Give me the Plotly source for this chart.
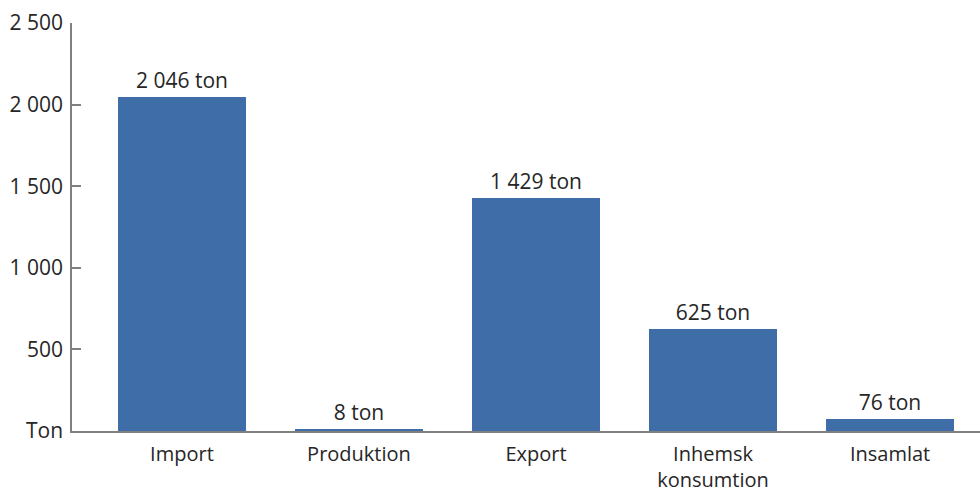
import plotly.graph_objects as go

# Flows of the substance, in tonnes
categories = ["Import", "Produktion", "Export", "Inhemsk<br>konsumtion", "Insamlat"]
values = [2046, 8, 1429, 625, 76]
value_labels = ["2 046 ton", "8 ton", "1 429 ton", "625 ton", "76 ton"]
y_ticks = [0, 500, 1000, 1500, 2000, 2500]
y_tick_labels = ["Ton", "500", "1 000", "1 500", "2 000", "2 500"]

positions = list(range(len(categories)))
font_family = "Open Sans, Noto Sans, sans-serif"
text_color = "#262626"
font_size = 21

fig = go.Figure(
    go.Bar(
        x=positions,
        y=values,
        width=0.723,
        marker=dict(color="#3F6DA8", line=dict(width=0)),
        text=value_labels,
        textposition="outside",
        textfont=dict(family=font_family, size=font_size, color=text_color),
        cliponaxis=False,
    )
)

fig.update_layout(
    width=980,
    height=492,
    margin=dict(l=72, r=0, t=23, b=61),
    paper_bgcolor="#FFFFFF",
    plot_bgcolor="#FFFFFF",
    showlegend=False,
    bargap=0,
    font=dict(family=font_family, size=font_size, color=text_color),
    uniformtext=dict(minsize=font_size, mode="show"),
    xaxis=dict(
        range=[-0.621, 4.508],
        tickvals=positions,
        ticktext=categories,
        automargin=False,
        showgrid=False,
        zeroline=False,
        showline=True,
        linecolor="#808080",
        linewidth=1.5,
        ticks="",
        ticklabelstandoff=4,
        tickfont=dict(family=font_family, size=20, color=text_color),
    ),
    yaxis=dict(
        range=[0, 2500],
        tickvals=y_ticks,
        ticktext=y_tick_labels,
        automargin=False,
        showgrid=False,
        zeroline=False,
        showline=True,
        linecolor="#808080",
        linewidth=1.5,
        ticks="inside",
        ticklen=9,
        tickwidth=1.5,
        tickcolor="#808080",
        ticklabelstandoff=3,
        tickfont=dict(family=font_family, size=font_size, color=text_color),
    ),
)

fig.write_html("out.html")
